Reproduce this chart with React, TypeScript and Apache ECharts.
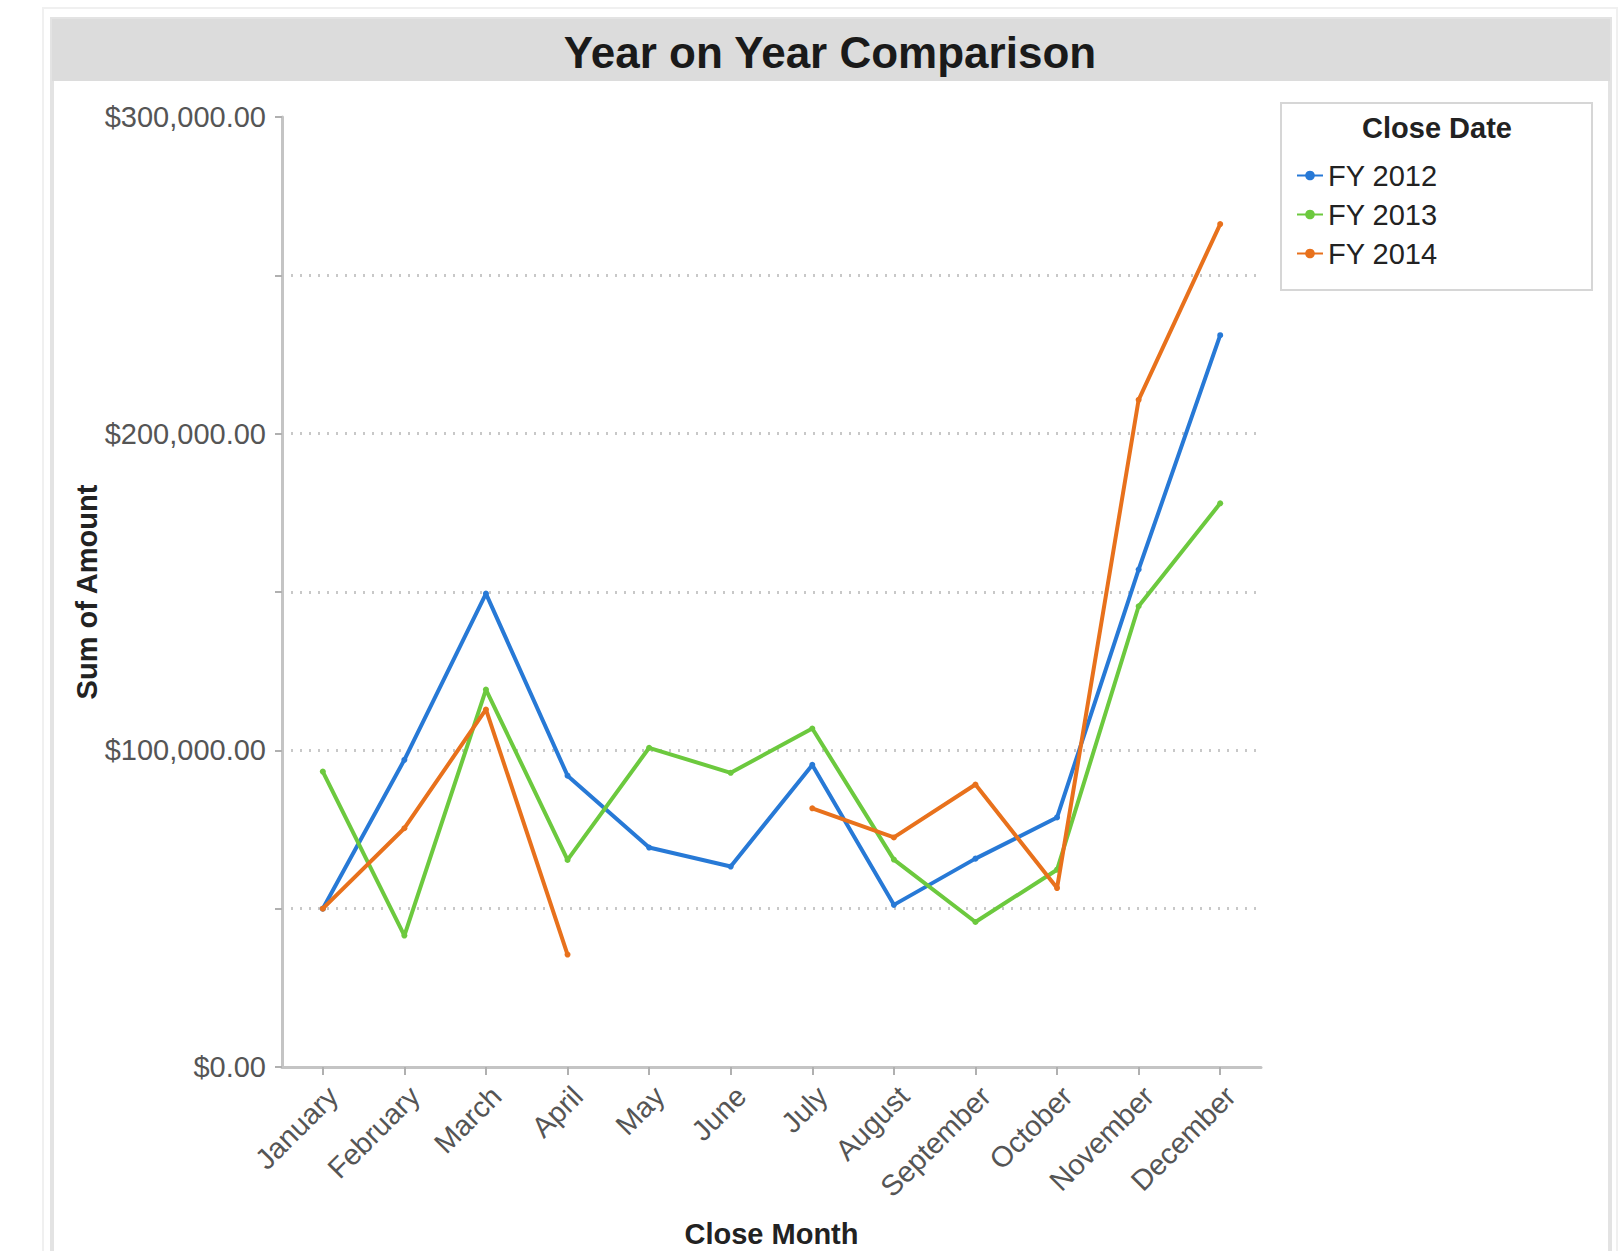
import React, { useEffect, useRef } from "react";
import * as echarts from "echarts";

const months = [
  "January", "February", "March", "April", "May", "June",
  "July", "August", "September", "October", "November", "December",
];
const fy2012 = [50000, 97000, 149500, 92000, 69300, 63300, 95400, 51200, 65800, 78800, 157100, 231100];
const fy2013 = [93300, 41500, 119200, 65400, 100800, 92900, 106900, 65500, 45800, 62300, 145500, 178000];
const fy2014 = [50000, 75400, 112900, 35500, null, null, 81700, 72500, 89200, 56500, 210700, 266200];
const seriesNames = ["FY 2012", "FY 2013", "FY 2014"];
const seriesColors = ["#2779d6", "#6cc93e", "#e8711c"];
const yTicks = { min: 0, max: 300000, step: 50000 };

const FONT = "'Liberation Sans', Arial, Helvetica, sans-serif";

function fmtMoney(v: number): string {
  return "$" + v.toLocaleString("en-US", { minimumFractionDigits: 2, maximumFractionDigits: 2 });
}

export default function App() {
  const ref = useRef<HTMLDivElement>(null);
  useEffect(() => {
    if (!ref.current) return;
    const chart = echarts.init(ref.current, null, { renderer: "svg" });
    const values = [fy2012, fy2013, fy2014];
    const option: any = {
      animation: false,
      backgroundColor: "#ffffff",
      textStyle: { fontFamily: FONT },
      graphic: [
        {
          type: "rect", z: -10, silent: true,
          shape: { x: 43, y: 8, width: 1574, height: 1270 },
          style: { fill: "none", stroke: "#f0f0f0", lineWidth: 2 },
        },
        {
          type: "rect", z: -9, silent: true,
          shape: { x: 52, y: 19, width: 1558, height: 1260 },
          style: { fill: "#ffffff", stroke: "#e3e3e3", lineWidth: 4 },
        },
        {
          type: "rect", z: -8, silent: true,
          shape: { x: 52, y: 19, width: 1558, height: 62 },
          style: { fill: "#dcdcdc" },
        },
        {
          type: "text", silent: true,
          x: 830, y: 52,
          style: {
            text: "Year on Year Comparison",
            font: `bold 44px ${FONT}`,
            fill: "#1a1a1a",
            textAlign: "center",
            textVerticalAlign: "middle",
          },
        },
        {
          type: "rect", silent: true,
          shape: { x: 1281, y: 103, width: 311, height: 187 },
          style: { fill: "#ffffff", stroke: "#d6d6d6", lineWidth: 2 },
          z: 1,
        },
        {
          type: "text", silent: true, z: 2,
          x: 1437, y: 128,
          style: {
            text: "Close Date",
            font: `bold 29px ${FONT}`,
            fill: "#222222",
            textAlign: "center",
            textVerticalAlign: "middle",
          },
        },
      ],
      legend: {
        orient: "vertical",
        left: 1291,
        top: 156,
        itemWidth: 26,
        itemHeight: 12,
        itemGap: 10,
        z: 5,
        data: seriesNames,
        textStyle: { fontSize: 29, color: "#222222", lineHeight: 29, fontFamily: FONT },
      },
      grid: { left: 282, top: 117, right: 363, bottom: 184, outerBoundsMode: "none", containLabel: false },
      xAxis: {
        type: "category",
        data: months,
        boundaryGap: true,
        name: "Close Month",
        nameLocation: "middle",
        nameGap: 152,
        nameMoveOverlap: false,
        nameTextStyle: { fontSize: 29, fontWeight: "bold", color: "#222222", fontFamily: FONT },
        axisLine: { show: true, lineStyle: { color: "#c4c4c4", width: 3 } },
        axisTick: { show: true, alignWithLabel: true, length: 8, lineStyle: { color: "#b0b0b0", width: 2 } },
        axisLabel: {
          rotate: 45, fontSize: 29, color: "#555555", margin: 14, interval: 0,
          verticalAlign: "top", fontFamily: FONT,
        },
        splitLine: { show: false },
      },
      yAxis: {
        type: "value",
        min: yTicks.min,
        max: yTicks.max,
        interval: yTicks.step,
        name: "Sum of Amount",
        nameLocation: "middle",
        nameRotate: 90,
        nameGap: 181,
        nameMoveOverlap: false,
        nameTextStyle: { fontSize: 29, fontWeight: "bold", color: "#222222", fontFamily: FONT },
        axisLine: { show: true, lineStyle: { color: "#c4c4c4", width: 3 } },
        axisTick: { show: true, length: 7, lineStyle: { color: "#b0b0b0", width: 2 } },
        axisLabel: {
          fontSize: 29,
          color: "#555555",
          margin: 16,
          fontFamily: FONT,
          formatter: (v: number) => (v % 100000 === 0 ? fmtMoney(v) : ""),
        },
        splitLine: {
          show: true,
          lineStyle: {
            color: ["transparent", "#c8c8c8", "#c8c8c8", "#c8c8c8", "#c8c8c8", "#c8c8c8", "transparent"],
            type: [2, 7],
            width: 3,
          },
        },
      },
      series: seriesNames.map((name, i) => ({
        name,
        type: "line",
        data: values[i],
        connectNulls: false,
        symbol: "circle",
        symbolSize: 6,
        showSymbol: true,
        color: seriesColors[i],
        itemStyle: { color: seriesColors[i] },
        lineStyle: { color: seriesColors[i], width: 4 },
        z: 3 + i,
      })),
    };
    chart.setOption(option);
    return () => chart.dispose();
  }, []);
  return (
    <div
      ref={ref}
      style={{ position: "absolute", left: 0, top: 0, width: 1624, height: 1251 }}
    />
  );
}
